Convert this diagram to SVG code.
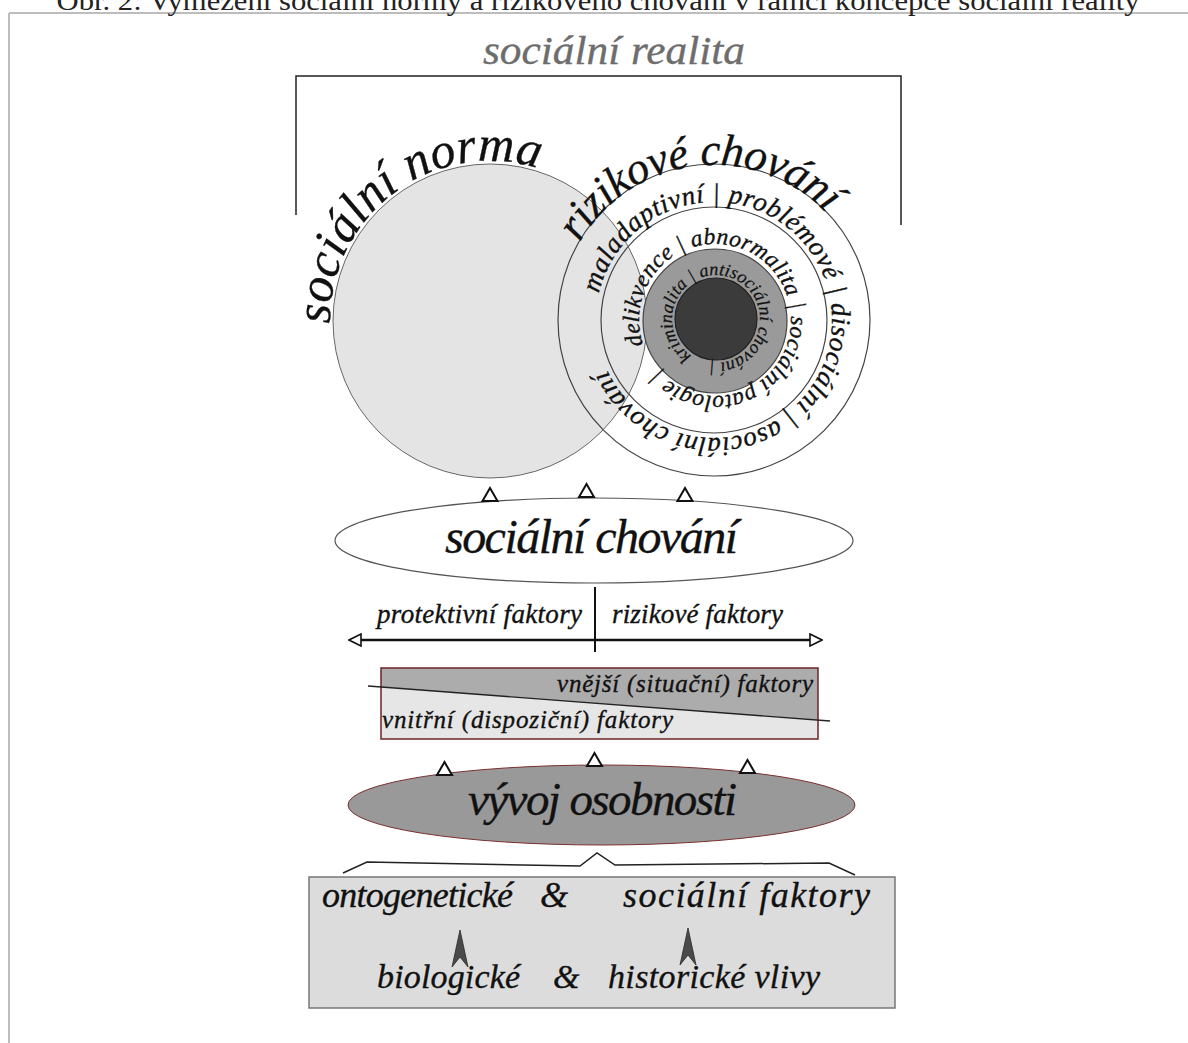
<svg xmlns="http://www.w3.org/2000/svg" width="1188" height="1043" viewBox="0 0 1188 1043">
<style>
.it{font-family:"Liberation Serif","DejaVu Serif",serif;font-style:italic;fill:#111;stroke:#111;stroke-width:0.35}
.tri{fill:#fff;stroke:#111;stroke-width:2;stroke-linejoin:miter}
.ln{fill:none;stroke:#222;stroke-width:1.5}
.spear{fill:#4a4a4a;stroke:#2a2a2a;stroke-width:0.8}
</style>
<defs>
<path id="pNorma" d="M490,481 A160,160 0 0 1 330,321 A160,160 0 0 1 490,161 A160,160 0 0 1 650,321 A160,160 0 0 1 490,481 A160,160 0 0 1 330,321 A160,160 0 0 1 490,161 A160,160 0 0 1 650,321 A160,160 0 0 1 490,481"/>
<path id="pRiz" d="M714,475 A155,155 0 0 1 559,320 A155,155 0 0 1 714,165 A155,155 0 0 1 869,320 A155,155 0 0 1 714,475 A155,155 0 0 1 559,320 A155,155 0 0 1 714,165 A155,155 0 0 1 869,320 A155,155 0 0 1 714,475"/>
<path id="pR1" d="M714,438 A118,118 0 0 1 596,320 A118,118 0 0 1 714,202 A118,118 0 0 1 832,320 A118,118 0 0 1 714,438 A118,118 0 0 1 596,320 A118,118 0 0 1 714,202 A118,118 0 0 1 832,320 A118,118 0 0 1 714,438"/>
<path id="pR2" d="M715,396 A76,76 0 0 1 639,320 A76,76 0 0 1 715,244 A76,76 0 0 1 791,320 A76,76 0 0 1 715,396 A76,76 0 0 1 639,320 A76,76 0 0 1 715,244 A76,76 0 0 1 791,320 A76,76 0 0 1 715,396"/>
<path id="pR3" d="M716,363 A44,44 0 0 1 672,319 A44,44 0 0 1 716,275 A44,44 0 0 1 760,319 A44,44 0 0 1 716,363 A44,44 0 0 1 672,319 A44,44 0 0 1 716,275 A44,44 0 0 1 760,319 A44,44 0 0 1 716,363"/>
<path id="triUp" d="M0,0 L7.5,13 L-7.5,13 Z"/>
<path id="spearShape" d="M0,0 L8,37 L0,27 L-8,37 Z"/>
<marker id="openArrow" viewBox="0 0 14 14" refX="1" refY="7" markerWidth="14" markerHeight="14" markerUnits="userSpaceOnUse" orient="auto-start-reverse">
<path d="M1,1 L13,7 L1,13 Z" fill="#fff" stroke="#111" stroke-width="1.6"/>
</marker>
<clipPath id="rectClip"><rect x="381" y="668" width="437" height="71"/></clipPath>
</defs>

<g id="page-frame">
<line x1="9" y1="13" x2="1188" y2="13" stroke="#bdbdbd" stroke-width="2"/>
<line x1="9" y1="13" x2="9" y2="1043" stroke="#bdbdbd" stroke-width="2"/>
<text x="598" y="10" font-family="Liberation Serif, DejaVu Serif, serif" font-size="27" fill="#222" text-anchor="middle" textLength="1083" lengthAdjust="spacingAndGlyphs">Obr. 2: Vymezení sociální normy a rizikového chování v rámci koncepce sociální reality</text>
</g>

<g id="social-reality">
<text class="it" x="614" y="64" font-size="41" text-anchor="middle" style="fill:#6d6d6d;stroke:#6d6d6d" textLength="262" lengthAdjust="spacingAndGlyphs">sociální realita</text>
<polyline class="ln" points="296,215 296,76 901,76 901,225"/>
</g>

<g id="social-norm">
<circle cx="490" cy="321" r="157" fill="#e4e4e4" stroke="none"/>
</g>

<g id="risk-behaviour">
<circle cx="714" cy="320" r="156" fill="none" stroke="#444" stroke-width="1.2"/>
<circle cx="714" cy="320" r="113" fill="none" stroke="#444" stroke-width="1.2"/>
<circle cx="490" cy="321" r="157" fill="none" stroke="#666" stroke-width="1"/>
<circle cx="715" cy="321" r="72" fill="#9a9a9a" stroke="#444" stroke-width="1.2"/>
<circle cx="716" cy="319" r="41" fill="#3b3b3b" stroke="#222" stroke-width="1.2"/>
</g>

<g id="circle-labels">
<text class="it" font-size="50"><textPath href="#pNorma" startOffset="248.5" textLength="303" lengthAdjust="spacing">sociální norma</textPath></text>
<text class="it" font-size="45"><textPath href="#pRiz" startOffset="324.6" textLength="288" lengthAdjust="spacing">rizikové chování</textPath></text>
<text class="it" font-size="27"><textPath href="#pR1" startOffset="212" textLength="663" lengthAdjust="spacing">maladaptivní | problémové | disociální | asociální chování</textPath></text>
<text class="it" font-size="23.5"><textPath href="#pR2" startOffset="94" textLength="447" lengthAdjust="spacing">delikvence | abnormalita | sociální patologie |</textPath></text>
<text class="it" font-size="18" style="stroke-width:0.25"><textPath href="#pR3" startOffset="26" textLength="256" lengthAdjust="spacing">kriminalita | antisociální chování |</textPath></text>
</g>

<g id="social-behaviour">
<ellipse cx="594" cy="540.5" rx="259" ry="42.5" fill="#fff" stroke="#555" stroke-width="1.2"/>
<text class="it" x="591.5" y="553" font-size="48" text-anchor="middle" textLength="293" lengthAdjust="spacing">sociální chování</text>
</g>

<g id="factors-axis">
<text class="it" x="377" y="623" font-size="27" textLength="205" lengthAdjust="spacing">protektivní faktory</text>
<text class="it" x="612" y="623" font-size="27" textLength="171" lengthAdjust="spacing">rizikové faktory</text>
</g>

<g id="situational-dispositional">
<g clip-path="url(#rectClip)">
<rect x="381" y="668" width="437" height="71" fill="#e6e6e6"/>
<polygon points="381,668 818,668 818,720.1 381,687" fill="#acacac"/>
</g>
<rect x="381" y="668" width="437" height="71" fill="none" stroke="#6b2424" stroke-width="1.5"/>
<line x1="368" y1="686" x2="830" y2="721" stroke="#222" stroke-width="1.3"/>
<text class="it" x="813" y="692" font-size="25" text-anchor="end" textLength="256" lengthAdjust="spacing">vnější (situační) faktory</text>
<text class="it" x="382" y="728" font-size="25" textLength="291" lengthAdjust="spacing">vnitřní (dispoziční) faktory</text>
</g>

<g id="personality-development">
<ellipse cx="601.5" cy="805" rx="253.5" ry="40" fill="#999" stroke="#7a3030" stroke-width="1"/>
<text class="it" x="602.5" y="815" font-size="47" text-anchor="middle" textLength="269" lengthAdjust="spacing">vývoj osobnosti</text>
</g>

<g id="factors-box">
<rect x="309" y="877" width="586" height="131" fill="#dcdcdc" stroke="#777" stroke-width="1.5"/>
<text class="it" x="322" y="907" font-size="36" textLength="191" lengthAdjust="spacing">ontogenetické</text>
<text class="it" x="540" y="907" font-size="36">&amp;</text>
<text class="it" x="623" y="907" font-size="36" textLength="247" lengthAdjust="spacing">sociální faktory</text>
<text class="it" x="377" y="988" font-size="34" textLength="143" lengthAdjust="spacing">biologické</text>
<text class="it" x="553" y="988" font-size="34">&amp;</text>
<text class="it" x="608" y="988" font-size="34" textLength="212" lengthAdjust="spacing">historické vlivy</text>
</g>

<g id="connectors">
<use href="#triUp" class="tri" x="490" y="488"/>
<use href="#triUp" class="tri" x="586.5" y="484"/>
<use href="#triUp" class="tri" x="685" y="488"/>
<line x1="595" y1="587" x2="595" y2="652" stroke="#111" stroke-width="2"/>
<line x1="361" y1="640" x2="810" y2="640" stroke="#111" stroke-width="2.5" marker-start="url(#openArrow)" marker-end="url(#openArrow)"/>
<use href="#triUp" class="tri" x="444.5" y="762"/>
<use href="#triUp" class="tri" x="594.5" y="753"/>
<use href="#triUp" class="tri" x="747.5" y="760"/>
<polyline class="ln" points="343,873 367,862 580,866 597,853 615,865 829,863 855,875"/>
<use href="#spearShape" class="spear" x="460" y="930"/>
<use href="#spearShape" class="spear" x="688" y="928"/>
</g>
</svg>
